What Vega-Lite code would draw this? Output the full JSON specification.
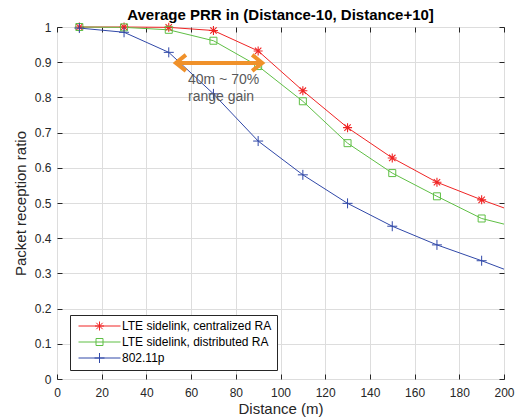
{
  "$schema": "https://vega.github.io/schema/vega-lite/v6.json",
  "width": 447,
  "height": 352,
  "autosize": "none",
  "padding": {"left": 57, "top": 27, "right": 15, "bottom": 39},
  "background": "white",
  "config": {
    "font": "Arial",
    "view": {"stroke": "#262626", "strokeWidth": 1}
  },
  "title": {
    "text": "Average PRR in (Distance-10, Distance+10]",
    "fontSize": 15,
    "fontWeight": "bold",
    "color": "black",
    "offset": -3,
    "anchor": "middle",
    "frame": "group"
  },
  "datasets": {
    "prr": [
      {"series": "LTE sidelink, centralized RA", "d": 10, "prr": 1.0},
      {"series": "LTE sidelink, centralized RA", "d": 30, "prr": 1.0},
      {"series": "LTE sidelink, centralized RA", "d": 50, "prr": 0.999},
      {"series": "LTE sidelink, centralized RA", "d": 70, "prr": 0.99},
      {"series": "LTE sidelink, centralized RA", "d": 90, "prr": 0.932},
      {"series": "LTE sidelink, centralized RA", "d": 110, "prr": 0.819},
      {"series": "LTE sidelink, centralized RA", "d": 130, "prr": 0.714},
      {"series": "LTE sidelink, centralized RA", "d": 150, "prr": 0.628},
      {"series": "LTE sidelink, centralized RA", "d": 170, "prr": 0.559},
      {"series": "LTE sidelink, centralized RA", "d": 190, "prr": 0.509},
      {"series": "LTE sidelink, centralized RA", "d": 200, "prr": 0.486},
      {"series": "LTE sidelink, distributed RA", "d": 10, "prr": 1.0},
      {"series": "LTE sidelink, distributed RA", "d": 30, "prr": 0.999},
      {"series": "LTE sidelink, distributed RA", "d": 50, "prr": 0.992},
      {"series": "LTE sidelink, distributed RA", "d": 70, "prr": 0.961},
      {"series": "LTE sidelink, distributed RA", "d": 90, "prr": 0.889},
      {"series": "LTE sidelink, distributed RA", "d": 110, "prr": 0.789},
      {"series": "LTE sidelink, distributed RA", "d": 130, "prr": 0.67},
      {"series": "LTE sidelink, distributed RA", "d": 150, "prr": 0.585},
      {"series": "LTE sidelink, distributed RA", "d": 170, "prr": 0.519},
      {"series": "LTE sidelink, distributed RA", "d": 190, "prr": 0.456},
      {"series": "LTE sidelink, distributed RA", "d": 200, "prr": 0.44},
      {"series": "802.11p", "d": 10, "prr": 0.997},
      {"series": "802.11p", "d": 30, "prr": 0.985},
      {"series": "802.11p", "d": 50, "prr": 0.928},
      {"series": "802.11p", "d": 70, "prr": 0.81},
      {"series": "802.11p", "d": 90, "prr": 0.676},
      {"series": "802.11p", "d": 110, "prr": 0.58},
      {"series": "802.11p", "d": 130, "prr": 0.499},
      {"series": "802.11p", "d": 150, "prr": 0.434},
      {"series": "802.11p", "d": 170, "prr": 0.381},
      {"series": "802.11p", "d": 190, "prr": 0.336},
      {"series": "802.11p", "d": 200, "prr": 0.312}
    ],
    "arrow": [{"x1": 54, "x2": 91, "y": 0.898}],
    "headL": [{"x": 53.2, "y": 0.898}],
    "headR": [{"x": 91.8, "y": 0.898}],
    "note": [
      {"x": 58.6, "y": 0.849, "t": "40m ~ 70%"},
      {"x": 58.6, "y": 0.802, "t": "range gain"}
    ]
  },
  "resolve": {"axis": {"x": "independent", "y": "independent"}},
  "layer": [
    {
      "data": {"name": "prr"},
      "mark": {"type": "line", "strokeWidth": 1},
      "encoding": {
        "x": {
          "field": "d", "type": "quantitative",
          "scale": {"domain": [0, 200], "nice": false, "zero": false},
          "axis": {
            "title": "Distance (m)",
            "values": [0, 20, 40, 60, 80, 100, 120, 140, 160, 180, 200],
            "grid": true, "gridColor": "#dddddd", "gridWidth": 1,
            "domain": false,
            "tickSize": -5, "tickColor": "#262626",
            "labelPadding": 13, "labelFontSize": 12, "labelColor": "#262626",
            "labelFlush": false,
            "titleFontSize": 15, "titleFontWeight": "normal", "titleColor": "#262626",
            "titlePadding": 3
          }
        },
        "y": {
          "field": "prr", "type": "quantitative",
          "scale": {"domain": [0, 1], "nice": false},
          "axis": {
            "title": "Packet reception ratio",
            "values": [0, 0.1, 0.2, 0.3, 0.4, 0.5, 0.6, 0.7, 0.8, 0.9, 1],
            "format": "~g",
            "grid": true, "gridColor": "#dddddd", "gridWidth": 1,
            "domain": false,
            "tickSize": -5, "tickColor": "#262626",
            "labelPadding": 11, "labelFontSize": 12, "labelColor": "#262626",
            "labelFlush": false,
            "titleFontSize": 15, "titleFontWeight": "normal", "titleColor": "#262626",
            "titlePadding": 6
          }
        },
        "color": {
          "field": "series", "type": "nominal",
          "scale": {
            "domain": ["LTE sidelink, centralized RA", "LTE sidelink, distributed RA", "802.11p"],
            "range": ["#f02424", "#5fbf45", "#3048a8"]
          },
          "legend": {
            "title": null,
            "orient": "none",
            "legendX": 13,
            "legendY": 288,
            "direction": "vertical",
            "padding": 5,
            "columnPadding": 0,
            "strokeColor": "#262626",
            "fillColor": "white",
            "cornerRadius": 0,
            "labelFontSize": 12,
            "labelColor": "black",
            "labelOffset": 35,
            "rowPadding": 3,
            "symbolSize": 64,
            "symbolStrokeWidth": 1,
            "encode": {
              "symbols": {
                "update": {
                  "fill": {"value": "transparent"},
                  "shape": {"signal": "datum.value === '802.11p' ? 'M-0.625,0 L9.875,0 M4.625,-1.25 L4.625,1.25 M3.375,0 L5.875,0' : (datum.value === 'LTE sidelink, distributed RA' ? 'M-0.625,0 L9.875,0 M3.75,-0.875 L5.5,-0.875 L5.5,0.875 L3.75,0.875 Z' : 'M-0.625,0 L9.875,0 M4.625,-1.125 L4.625,1.125 M3.5,0 L5.75,0 M3.83,-0.8 L5.42,0.8 M3.83,0.8 L5.42,-0.8')"}
                }
              }
            }
          }
        }
      }
    },
    {
      "data": {"name": "prr"},
      "transform": [{"filter": "datum.d < 200 && datum.series === 'LTE sidelink, centralized RA'"}],
      "mark": {"type": "point", "filled": false, "strokeWidth": 1.1, "size": 100, "opacity": 1, "color": "#f02424",
        "shape": "M0,-0.9 L0,0.9 M-0.9,0 L0.9,0 M-0.64,-0.64 L0.64,0.64 M-0.64,0.64 L0.64,-0.64"},
      "encoding": {
        "x": {
          "field": "d", "type": "quantitative",
          "axis": {
            "orient": "top", "labels": false, "title": null, "grid": false, "domain": false,
            "values": [0, 20, 40, 60, 80, 100, 120, 140, 160, 180, 200],
            "tickSize": -5, "tickColor": "#262626"
          }
        },
        "y": {
          "field": "prr", "type": "quantitative",
          "axis": {
            "orient": "right", "labels": false, "title": null, "grid": false, "domain": false,
            "values": [0, 0.1, 0.2, 0.3, 0.4, 0.5, 0.6, 0.7, 0.8, 0.9, 1],
            "tickSize": -5, "tickColor": "#262626"
          }
        }
      }
    },
    {
      "data": {"name": "prr"},
      "transform": [{"filter": "datum.d < 200 && datum.series === 'LTE sidelink, distributed RA'"}],
      "mark": {"type": "point", "filled": false, "strokeWidth": 1, "size": 100, "opacity": 1, "color": "#5fbf45",
        "shape": "M-0.7,-0.7 L0.7,-0.7 L0.7,0.7 L-0.7,0.7 Z"},
      "encoding": {
        "x": {"field": "d", "type": "quantitative", "axis": null},
        "y": {"field": "prr", "type": "quantitative", "axis": null}
      }
    },
    {
      "data": {"name": "prr"},
      "transform": [{"filter": "datum.d < 200 && datum.series === '802.11p'"}],
      "mark": {"type": "point", "filled": false, "strokeWidth": 1, "size": 100, "opacity": 1, "color": "#3048a8",
        "shape": "M0,-1 L0,1 M-1,0 L1,0"},
      "encoding": {
        "x": {"field": "d", "type": "quantitative", "axis": null},
        "y": {"field": "prr", "type": "quantitative", "axis": null}
      }
    },
    {
      "data": {"name": "arrow"},
      "mark": {"type": "rule", "color": "#f0912a", "strokeWidth": 4},
      "encoding": {
        "x": {"field": "x1", "type": "quantitative", "axis": null},
        "x2": {"field": "x2"},
        "y": {"field": "y", "type": "quantitative", "axis": null}
      }
    },
    {
      "data": {"name": "headL"},
      "mark": {"type": "point", "shape": "M1,-0.8 L0,0 L1,0.8", "size": 400, "filled": false, "stroke": "#f0912a", "strokeWidth": 4, "opacity": 1, "strokeJoin": "miter"},
      "encoding": {
        "x": {"field": "x", "type": "quantitative", "axis": null},
        "y": {"field": "y", "type": "quantitative", "axis": null}
      }
    },
    {
      "data": {"name": "headR"},
      "mark": {"type": "point", "shape": "M-1,-0.8 L0,0 L-1,0.8", "size": 400, "filled": false, "stroke": "#f0912a", "strokeWidth": 4, "opacity": 1, "strokeJoin": "miter"},
      "encoding": {
        "x": {"field": "x", "type": "quantitative", "axis": null},
        "y": {"field": "y", "type": "quantitative", "axis": null}
      }
    },
    {
      "data": {"name": "note"},
      "mark": {"type": "text", "align": "left", "baseline": "middle", "fontSize": 14, "color": "#595959"},
      "encoding": {
        "x": {"field": "x", "type": "quantitative", "axis": null},
        "y": {"field": "y", "type": "quantitative", "axis": null},
        "text": {"field": "t"}
      }
    }
  ]
}
